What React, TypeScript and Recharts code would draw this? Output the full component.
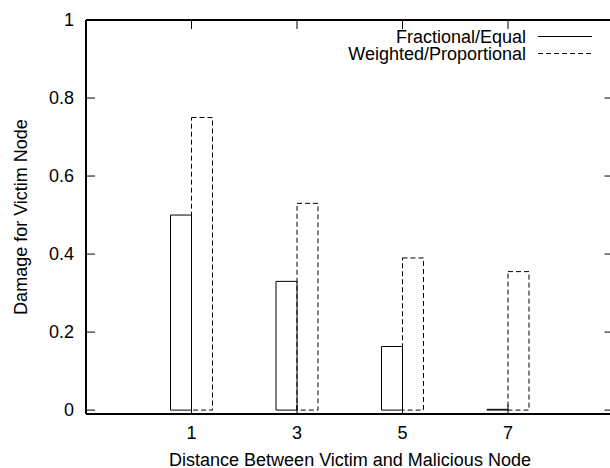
import React from 'react';
import { BarChart, Bar, XAxis, YAxis, Customized } from 'recharts';

const distances = [1, 3, 5, 7];
const fractionalEqual = [0.5, 0.33, 0.163, 0.002];
const weightedProportional = [0.75, 0.53, 0.39, 0.355];
const yTicks = [0, 0.2, 0.4, 0.6, 0.8, 1];
const seriesNames = ['Fractional/Equal', 'Weighted/Proportional'];
const xTitle = 'Distance Between Victim and Malicious Node';
const yTitle = 'Damage for Victim Node';

const data = distances.map((d, i) => ({
  x: d,
  fractional: fractionalEqual[i],
  weighted: weightedProportional[i],
}));

const FONT = '"Liberation Sans", Arial, Helvetica, sans-serif';
const DASH = '5 3';

const Annotations = () => (
  <g fontFamily={FONT} fontSize={18} fill="#000">
    <text x={350} y={465.5} textAnchor="middle">{xTitle}</text>
    <text transform="rotate(-90)" x={-217} y={26.5} textAnchor="middle">{yTitle}</text>
    <text x={526} y={43} textAnchor="end">{seriesNames[0]}</text>
    <line x1={538} x2={592} y1={36.5} y2={36.5} stroke="#000" strokeWidth={1} />
    <text x={526} y={59.5} textAnchor="end">{seriesNames[1]}</text>
    <line x1={538} x2={592} y1={53.5} y2={53.5} stroke="#000" strokeWidth={1} strokeDasharray={DASH} />
  </g>
);

const EmptyTick = () => <g />;

const tickStyle = { fontSize: 18, fill: '#000', fontFamily: FONT };
const axisLineStyle = { stroke: '#000', strokeWidth: 2 };
const tickLineStyle = { stroke: '#000', strokeWidth: 1 };
const xPad = { left: 52.75, right: 52.75 };

export default function App() {
  return (
    <div style={{ position: 'absolute', left: 0, top: 0, width: 610, height: 468, overflow: 'hidden', background: '#fff' }}>
      <BarChart
        width={615}
        height={468}
        data={data}
        margin={{ top: 19, right: 0.5, bottom: 53, left: 85 }}
        barGap={0}
        barCategoryGap={31.75}
      >
        <XAxis
          dataKey="x"
          type="category"
          xAxisId="bottom"
          orientation="bottom"
          height={1}
          padding={xPad}
          tickSize={-9}
          tickMargin={21}
          tick={tickStyle}
          axisLine={axisLineStyle}
          tickLine={tickLineStyle}
          interval={0}
        />
        <XAxis
          dataKey="x"
          type="category"
          xAxisId="top"
          orientation="top"
          height={1}
          padding={xPad}
          tickSize={-9}
          tick={EmptyTick}
          axisLine={axisLineStyle}
          tickLine={tickLineStyle}
          interval={0}
        />
        <YAxis
          yAxisId="left"
          orientation="left"
          type="number"
          width={1}
          domain={[-0.01, 1]}
          ticks={yTicks}
          allowDataOverflow
          tickSize={-9}
          tickMargin={21}
          tick={tickStyle}
          axisLine={axisLineStyle}
          tickLine={tickLineStyle}
          interval={0}
        />
        <YAxis
          yAxisId="right"
          orientation="right"
          type="number"
          width={1}
          domain={[-0.01, 1]}
          ticks={yTicks}
          allowDataOverflow
          tickSize={-9}
          tick={EmptyTick}
          axisLine={axisLineStyle}
          tickLine={tickLineStyle}
          interval={0}
        />
        <Bar
          dataKey="fractional"
          name={seriesNames[0]}
          xAxisId="bottom"
          yAxisId="left"
          fill="none"
          stroke="#000"
          strokeWidth={1}
          isAnimationActive={false}
        />
        <Bar
          dataKey="weighted"
          name={seriesNames[1]}
          xAxisId="bottom"
          yAxisId="left"
          fill="none"
          stroke="#000"
          strokeWidth={1}
          strokeDasharray={DASH}
          isAnimationActive={false}
        />
        <Customized component={Annotations} />
      </BarChart>
    </div>
  );
}
